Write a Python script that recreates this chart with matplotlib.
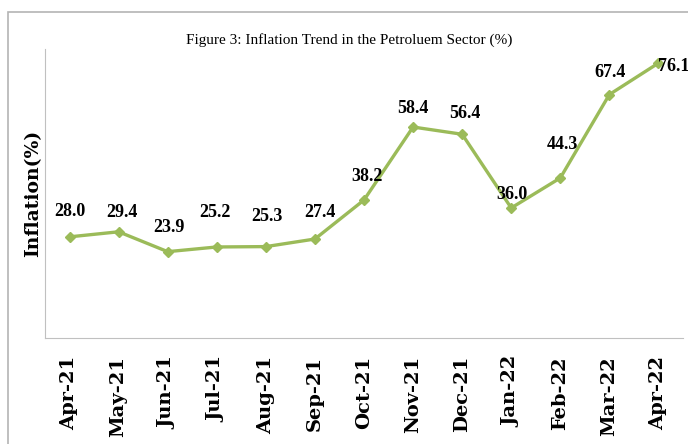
import matplotlib.pyplot as plt
from matplotlib.patches import Rectangle

# data
months = ['Apr-21', 'May-21', 'Jun-21', 'Jul-21', 'Aug-21', 'Sep-21', 'Oct-21',
          'Nov-21', 'Dec-21', 'Jan-22', 'Feb-22', 'Mar-22', 'Apr-22']
inflation = [28.0, 29.4, 23.9, 25.2, 25.3, 27.4, 38.2, 58.4, 56.4, 36.0, 44.3, 67.4, 76.1]

# label offsets in pixels (dx, dy) from each point
label_offsets = [(0, 25), (3, 19), (1, 24), (-2, 34), (1, 30), (5, 27), (3, 24),
                 (0, 19), (3, 21), (1, 13), (2, 33), (1, 22), (15, -3)]

serif = 'Liberation Serif'
green = '#9bbb59'

fig = plt.figure(figsize=(6.88, 4.44), dpi=100)
# outer chart border (runs off right/bottom edge like the screenshot)
fig.patches.append(Rectangle((8 / 688, -0.1), 1.0, 1 - 12 / 444 + 0.1,
                             transform=fig.transFigure, fill=False,
                             edgecolor='#b4b4b4', lw=1.2))

ax = fig.add_axes([45 / 688, 1 - 338 / 444, 638 / 688, 289 / 444])
x = range(len(months))
ax.plot(x, inflation, color=green, lw=2.4, marker='D', ms=5, mec=green, mfc=green)

for i, v in enumerate(inflation):
    dx, dy = label_offsets[i]
    ax.annotate(f'{v:.1f}', (i, v), xytext=(dx, dy), textcoords='offset pixels',
                ha='center', va='center', fontsize=13, fontweight='bold',
                family=serif)

ax.set_xlim(-0.5, len(months) - 0.5)
ax.set_ylim(0, 80)
ax.set_xticks(list(x))
# wider serif so the rotated labels get the reference's length
ax.set_xticklabels(months, rotation=90, fontsize=14, fontweight='bold',
                   family=['DejaVu Serif'])
ax.tick_params(axis='x', length=0, pad=13)
ax.set_yticks([])
ax.set_ylabel('Inflation(%)', fontsize=13.5, fontweight='bold',
              family=['DejaVu Serif'], labelpad=2)
for s in ['top', 'right']:
    ax.spines[s].set_visible(False)
for s in ['left', 'bottom']:
    ax.spines[s].set_color('#c0c0c0')

fig.text(349 / 688, 1 - 40 / 444, 'Figure 3: Inflation Trend in the Petroluem Sector (%)',
         ha='center', va='center', fontsize=11, family=serif)

fig.savefig('out.png', dpi=100)
